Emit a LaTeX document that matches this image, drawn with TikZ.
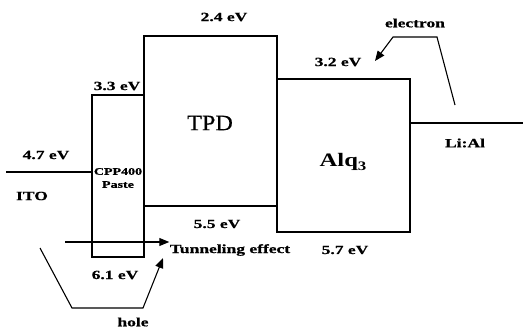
\documentclass[tikz,border=0pt]{standalone}
\usepackage{fontspec}
\setmainfont{Liberation Serif}
\newfontfamily\labfont[FakeStretch=1.4,FakeBold=0.8]{Liberation Serif}
\newfontfamily\bigfont[FakeStretch=1.1,FakeBold=0.6]{Liberation Serif}
\newfontfamily\alqfont[FakeStretch=1.3]{Liberation Serif}
\usetikzlibrary{arrows.meta}
\begin{document}
\begin{tikzpicture}[x=1pt,y=-1pt,
  line width=1.1pt,
  lbl/.style={inner sep=0pt,font=\labfont\bfseries\fontsize{12.5}{14}\selectfont},
  arr/.style={-{Triangle[length=10pt,width=8pt,fill=black]}}]
\useasboundingbox (0,0) rectangle (523,329);
% boxes
\node[draw,minimum width=52pt,minimum height=162pt,inner sep=0pt] (cpp) at (118,176) {};
\node[draw,minimum width=133pt,minimum height=170pt,inner sep=0pt] (tpd) at (210.5,121) {};
\node[draw,minimum width=133pt,minimum height=153pt,inner sep=0pt] (alq) at (343.5,155.5) {};
% electrodes
\coordinate (itoL) at (6,172);
\coordinate (itoR) at (cpp.west |- itoL);
\draw (itoL) -- (itoR);
\coordinate (lialL) at (alq.east |- 0,123);
\coordinate (lialR) at (523,123);
\draw (lialL) -- (lialR);
% box texts
\node[inner sep=0pt,font=\labfont\bfseries\fontsize{10}{12}\selectfont,align=center] (cpptxt) at (118,178) {CPP400\\[1pt]Paste};
\node[inner sep=0pt,font=\bigfont\fontsize{22}{24}\selectfont] (tpdtxt) at (210,123) {TPD};
\node[inner sep=0pt,font=\alqfont\bfseries\fontsize{19}{20}\selectfont] (alqtxt) at (343,162) {Alq\raisebox{-4pt}{\fontsize{13}{14}\selectfont 3}};
% energy labels
\node[lbl] (e24) at (224,17) {2.4 eV};
\node[lbl] (e33) at (117,86) {3.3 eV};
\node[lbl] (e47) at (46,155) {4.7 eV};
\node[lbl] (ito) at (32,196) {ITO};
\node[lbl] (e55) at (217,224) {5.5 eV};
\node[lbl] (tun) at (230,250) {Tunneling effect};
\node[lbl] (e61) at (115,275) {6.1 eV};
\node[lbl] (e57) at (345,250) {5.7 eV};
\node[lbl] (e32) at (338,62) {3.2 eV};
\node[lbl] (elec) at (415,23) {electron};
\node[lbl] (lial) at (465,143) {Li:Al};
\node[lbl] (hole) at (133,322) {hole};
% tunneling arrow
\coordinate (t0) at (65,242);
\draw[arr] (t0) -- (tun.west |- t0);
% hole path
\coordinate (h0) at (40,248);
\coordinate (h1) at (72,308);
\coordinate (h2) at (143,308);
\coordinate (h3) at (163,258);
\draw[arr] (h0) -- (h1) -- (h2) -- (h3);
% electron path
\coordinate (q0) at (455,105);
\coordinate (q1) at (437,37);
\coordinate (q2) at (393,37);
\coordinate (q3) at (375,61);
\draw[arr] (q0) -- (q1) -- (q2) -- (q3);
\end{tikzpicture}
\end{document}
